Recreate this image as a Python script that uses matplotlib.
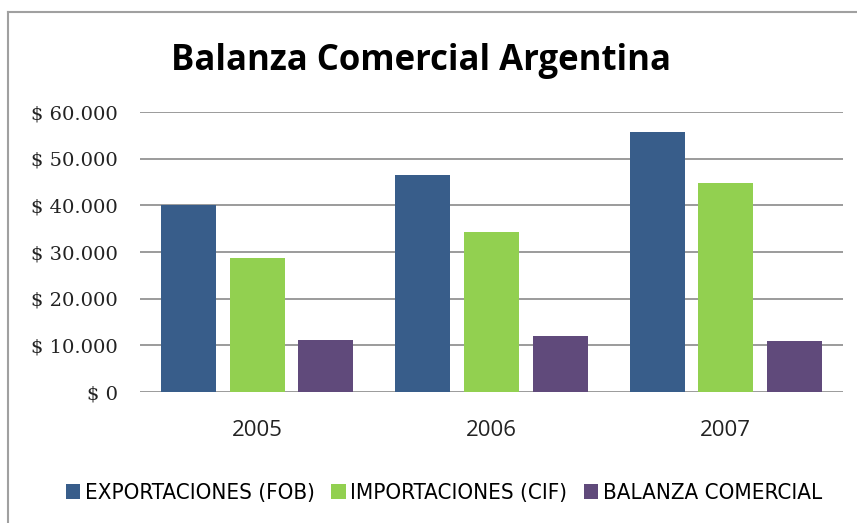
import matplotlib
matplotlib.use("Agg")
import matplotlib.pyplot as plt
import numpy as np
from matplotlib.ticker import FuncFormatter
from matplotlib.lines import Line2D
from matplotlib.font_manager import FontProperties, fontManager

years = ["2005", "2006", "2007"]
exportaciones = [40000, 46500, 55800]
importaciones = [28700, 34200, 44800]
balanza = [11200, 12100, 10900]
series_names = ["EXPORTACIONES (FOB)", "IMPORTACIONES (CIF)", "BALANZA COMERCIAL"]
colors = ["#385D8A", "#92D050", "#604A7B"]
yticks = [0, 10000, 20000, 30000, 40000, 50000, 60000]

W, H = 857, 523
fig = plt.figure(figsize=(W / 100, H / 100), dpi=100)
fig.patch.set_facecolor("white")

ax = fig.add_axes([140 / W, 1 - 392 / H, (843 - 140) / W, (392 - 112) / H])
x = np.arange(len(years))
bw = 0.235
step = 0.293
for i, (vals, c, name) in enumerate(zip([exportaciones, importaciones, balanza], colors, series_names)):
    ax.bar(x + (i - 1) * step, vals, width=bw, color=c, label=name, zorder=3)

ax.set_xlim(-0.5, len(years) - 0.5)
ax.set_ylim(0, 60000)
ax.set_yticks(yticks)
ax.yaxis.set_major_formatter(FuncFormatter(lambda v, p: "$ " + f"{int(v):,}".replace(",", ".")))
ax.grid(axis="y", color="#8a8a8a", linewidth=1.2, zorder=0)
for s in ax.spines.values():
    s.set_visible(False)
ax.tick_params(axis="both", length=0)
ax.tick_params(axis="y", pad=16)
ax.tick_params(axis="x", pad=20)
ax.set_xticks(x)
ax.set_xticklabels(years, fontsize=16, family="Open Sans", color="#222222")
for lab in ax.get_yticklabels():
    lab.set_family("DejaVu Serif")
    lab.set_fontsize(14)
    lab.set_color("#222222")

fig.text(421 / W, 1 - 61 / H, "Balanza Comercial Argentina", ha="center", va="center",
         fontsize=25, fontweight="bold", family="Open Sans", color="black")

# condensed legend font if available
cond = [f for f in fontManager.ttflist if f.name == "DejaVu Sans" and "ondensed" in str(f.stretch) + f.fname]
if cond:
    lprop = FontProperties(fname=[f.fname for f in cond if "Bold" not in f.fname and "Oblique" not in f.fname][0], size=16)
else:
    lprop = FontProperties(family="Lato", size=14)

leg = fig.legend(loc="center", bbox_to_anchor=(444 / W, 1 - 493 / H), ncol=3, frameon=False,
                 handlelength=0.65, handleheight=0.65, handletextpad=0.2, columnspacing=0.75,
                 prop=lprop)

# cropped outer frame: top and left edges
fig.add_artist(Line2D([8 / W, 1], [1 - 12 / H, 1 - 12 / H], color="#a0a0a0", linewidth=1.5))
fig.add_artist(Line2D([8 / W, 8 / W], [0, 1 - 12 / H], color="#a0a0a0", linewidth=1.5))

fig.savefig("out.png", dpi=100, facecolor="white")
